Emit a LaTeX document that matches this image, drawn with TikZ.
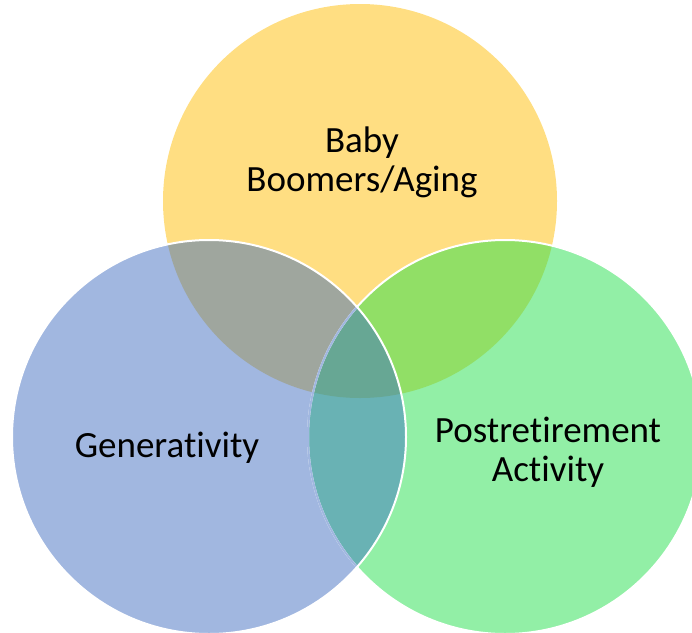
\documentclass[tikz,border=0pt]{standalone}
\usepackage{fontspec}
\setmainfont[Ligatures={NoCommon}]{Carlito}
\definecolor{cY}{HTML}{FFDE82}
\definecolor{cB}{HTML}{A1B7E0}
\definecolor{cG}{HTML}{92EFA6}
\definecolor{cYB}{HTML}{9FA69E}
\definecolor{cYG}{HTML}{91DF66}
\definecolor{cBG}{HTML}{69B2B4}
\definecolor{cYBG}{HTML}{67A794}
\begin{document}
\begin{tikzpicture}[x=1pt,y=-1pt,
  lbl/.style={font=\fontsize{37}{39}\selectfont, align=center, inner sep=0pt, text=black},
  rim/.style={draw=white, line width=2pt}]
\useasboundingbox (0,0) rectangle (692,632);
\def\CY{(360,201) circle[radius=197pt]}
\def\CB{(209,437) circle[radius=197pt]}
\def\CG{(505,437) circle[radius=197pt]}
% base fills
\fill[cY] \CY;
\fill[cG] \CG;
\fill[cB] \CB;
% pairwise overlaps
\begin{scope}\clip \CY; \fill[cYG] \CG; \end{scope}
\begin{scope}\clip \CY; \fill[cYB] \CB; \end{scope}
\begin{scope}\clip \CG; \fill[cBG] \CB; \end{scope}
\begin{scope}\clip \CY; \clip \CG; \fill[cYBG] \CB; \end{scope}
% outlines (yellow, green, blue order)
\draw[rim] \CG;
\begin{scope}\clip \CB; \draw[draw=cB, line width=2pt] \CG; \end{scope}
\draw[rim] \CB;
% labels
\node[lbl] (baby) at (362,162) {Baby\\Boomers/Aging};
\node[lbl, anchor=base] (gen) at (167,457) {Generativity};
\node[lbl] (post) at (548,452) {Postretirement\\Activity};
\end{tikzpicture}
\end{document}
